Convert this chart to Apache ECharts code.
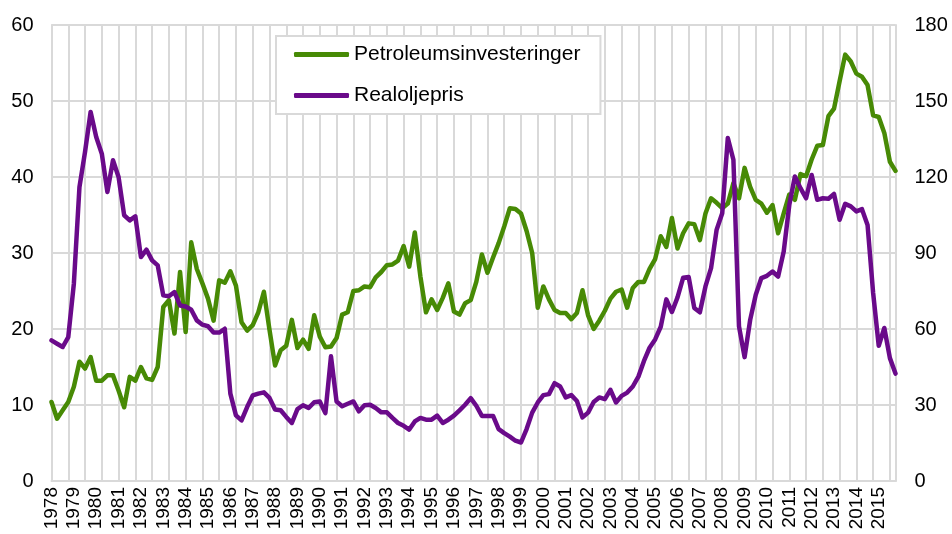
<!DOCTYPE html>
<html>
<head>
<meta charset="utf-8">
<script src="https://cdn.jsdelivr.net/npm/echarts@6/dist/echarts.min.js"></script>
<style>
html,body{margin:0;padding:0;background:#fff;}
#chart{width:952px;height:534px;}
</style>
</head>
<body>
<div id="chart"></div>
<script>
// Tick labels (years) – quarterly data 1978K1–2015K4
const years = ['1978','1979','1980','1981','1982','1983','1984','1985','1986','1987','1988','1989','1990','1991','1992','1993','1994','1995','1996','1997','1998','1999','2000','2001','2002','2003','2004','2005','2006','2007','2008','2009','2010','2011','2012','2013','2014','2015'];
const quarters = ['K1','K2','K3','K4'];

// Petroleumsinvesteringer (left axis)
const petroleumsinvesteringer = [
10.4,8.2,9.3,10.4, 12.4,15.7,14.8,16.3, 13.2,13.2,13.9,13.9, 11.9,9.7,13.7,13.2,
15.0,13.5,13.3,15.0, 22.9,23.8,19.4,27.5, 19.6,31.4,27.9,26.0, 24.0,21.1,26.4,26.1,
27.6,25.7,20.9,19.8, 20.5,22.2,24.9,19.9, 15.2,17.2,17.8,21.2, 17.5,18.6,17.4,21.8,
19.0,17.6,17.7,18.8, 21.9,22.2,25.0,25.1, 25.6,25.5,26.8,27.5, 28.4,28.5,29.0,30.9,
28.2,32.7,26.9,22.2, 23.9,22.5,24.1,26.0, 22.3,21.9,23.4,23.8, 26.2,29.8,27.4,29.4,
31.3,33.5,35.9,35.8, 35.2,32.9,30.0,22.8, 25.6,23.9,22.5,22.1, 22.1,21.3,22.1,25.1,
21.8,20.0,21.1,22.4, 24.0,24.9,25.2,22.8, 25.4,26.2,26.2,27.9, 29.2,32.2,30.8,34.6,
30.6,32.6,33.9,33.8, 31.7,35.2,37.2,36.6, 35.9,36.5,39.2,37.2, 41.2,38.7,37.0,36.5,
35.3,36.3,32.6,35.2, 37.7,37.0,40.4,40.1, 42.3,44.1,44.2,48.0, 49.0,52.6,56.1,55.2,
53.6,53.2,52.1,48.1, 47.9,45.8,42.0,40.8
];

// Realoljepris (right axis)
const realoljepris = [
55.5,54.2,52.9,56.8, 77.9,116,129.9,145.7, 135.8,129.2,114.1,126.6, 120,104.9,102.9,104.5,
88.4,91.3,87.1,85.1, 73.3,72.9,74.6,69.3, 68.9,67.6,63.4,61.7, 61.1,58.6,58.6,60.1,
34.5,25.9,23.9,29.2, 33.8,34.5,35.0,32.8, 28.2,27.9,25.3,22.9, 28.4,29.9,28.8,31.1,
31.4,26.8,49.2,31.4, 29.5,30.5,31.4,27.5, 29.9,30.1,28.8,27.1, 27.1,24.9,22.9,21.8,
20.3,23.5,24.9,24.2, 24.2,25.8,22.9,24.2, 25.8,27.9,30.1,32.7, 29.7,25.7,25.7,25.7,
20.5,18.9,17.5,15.9, 15.2,20.5,27.0,31.0, 33.9,34.3,38.6,37.3, 33.0,33.9,31.6,25.1,
27.0,31.2,33.0,32.3, 36.0,31.0,33.6,34.9, 37.3,41.2,47.4,52.6, 55.9,60.9,71.7,66.7,
72.5,80.2,80.5,68.3, 66.6,76.8,84.0,99.2, 105.7,135.4,126.8,61.0, 48.9,63.6,73.5,80.1,
81.0,82.7,80.7,90.6, 109.0,120.2,115.6,111.6, 120.8,111.0,111.6,111.4, 113.3,103.1,109.4,108.4,
106.4,107.3,101.1,74.2, 53.4,60.4,48.5,42.4
];

const categories = [];
years.forEach(y => quarters.forEach(q => categories.push(y + ' ' + q)));

const FONT = "'Liberation Sans', Arial, sans-serif";
const GRID = '#d9d9d9';
const GREEN = '#478a05';
const PURPLE = '#6a0a8a';

const chart = echarts.init(document.getElementById('chart'), null, {renderer: 'canvas'});
chart.setOption({
  animation: false,
  backgroundColor: '#ffffff',
  textStyle: {fontFamily: FONT},
  grid: {left: 51.5, right: 56.5, top: 25, bottom: 53, containLabel: false, outerBoundsMode: 'none'},
  legend: {
    orient: 'vertical',
    left: 276, top: 36,
    padding: [8, 20, 8, 18],
    itemGap: 20,
    itemWidth: 55, itemHeight: 5,
    icon: 'roundRect',
    backgroundColor: '#ffffff',
    borderColor: GRID, borderWidth: 2,
    textStyle: {fontSize: 21, color: '#000', fontFamily: FONT, lineHeight: 21},
    data: ['Petroleumsinvesteringer', 'Realoljepris']
  },
  xAxis: {
    type: 'category',
    data: categories,
    boundaryGap: false,
    axisLine: {show: true, lineStyle: {color: GRID, width: 2}},
    axisTick: {show: false},
    axisLabel: {
      interval: 3, rotate: 90, margin: 6,
      fontSize: 19, color: '#000', fontFamily: FONT,
      formatter: (v) => v.slice(0, 4)
    },
    splitLine: {show: true, interval: 2, lineStyle: {color: GRID, width: 2}}
  },
  yAxis: [
    {
      type: 'value', min: 0, max: 60, interval: 10,
      axisLine: {show: true, lineStyle: {color: GRID, width: 2}},
      axisTick: {show: false},
      axisLabel: {fontSize: 20, color: '#000', margin: 18, fontFamily: FONT},
      splitLine: {show: true, lineStyle: {color: GRID, width: 2}}
    },
    {
      type: 'value', min: 0, max: 180, interval: 30, position: 'right',
      axisLine: {show: true, lineStyle: {color: GRID, width: 2}},
      axisTick: {show: false},
      axisLabel: {fontSize: 20, color: '#000', margin: 19, fontFamily: FONT},
      splitLine: {show: false}
    }
  ],
  series: [
    {
      name: 'Petroleumsinvesteringer', type: 'line', yAxisIndex: 0,
      data: petroleumsinvesteringer, symbol: 'none', smooth: false,
      lineStyle: {color: GREEN, width: 4.5, join: 'round', cap: 'round'},
      itemStyle: {color: GREEN}, z: 2
    },
    {
      name: 'Realoljepris', type: 'line', yAxisIndex: 1,
      data: realoljepris, symbol: 'none', smooth: false,
      lineStyle: {color: PURPLE, width: 4.5, join: 'round', cap: 'round'},
      itemStyle: {color: PURPLE}, z: 3
    }
  ]
});
</script>
</body>
</html>
